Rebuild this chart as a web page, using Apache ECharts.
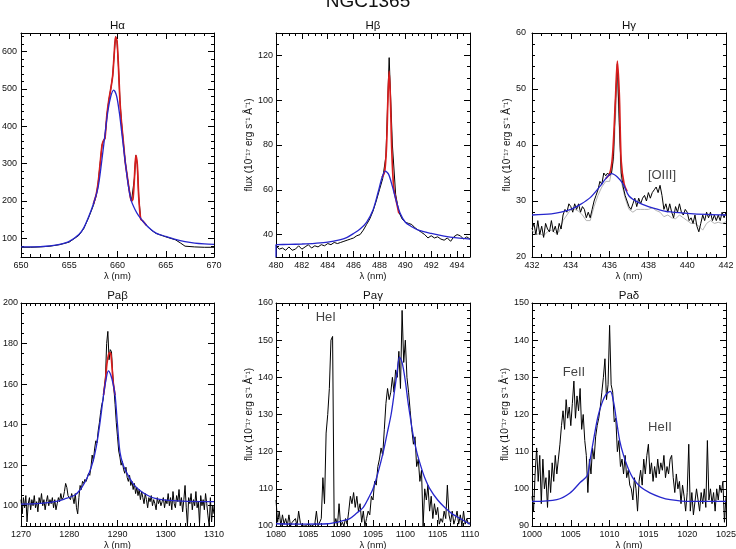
<!DOCTYPE html>
<html><head><meta charset="utf-8">
<script src="https://cdn.jsdelivr.net/npm/echarts@6/dist/echarts.min.js"></script>
<style>html,body{margin:0;padding:0;background:#fff}#c{width:736px;height:549px}</style>
</head><body><div id="c"></div>
<script>
// ---------------- DATA ----------------
const mainTitle = 'NGC1365';
const panelTitles = ['Hα', 'Hβ', 'Hγ', 'Paβ', 'Paγ', 'Paδ'];
const xRanges = [[650, 670], [480, 495], [432, 442], [1270, 1310], [1080, 1110], [1000, 1025]];
const xTickStep = [5, 2, 2, 10, 5, 5];
const yRanges = [[50, 650], [30, 130], [20, 60], [90, 200], [100, 160], [90, 150]];
const yTickStep = [100, 20, 10, 20, 10, 10];
const xName = 'λ (nm)';
const yName = 'flux (10⁻¹⁷ erg s⁻¹ Å⁻¹)';

// Hα
const haObsX = [650, 651, 652, 653, 654, 655, 656, 656.5, 657, 657.5, 657.8, 658, 658.2, 658.4, 658.55, 658.7, 658.9, 659.1, 659.3, 659.5, 659.65, 659.8, 659.95, 660.1, 660.25, 660.4, 660.6, 660.8, 661, 661.2, 661.45, 661.6, 661.75, 661.9, 662.05, 662.2, 662.4, 662.6, 663, 663.5, 664, 665, 666, 666.5, 667, 668, 669, 670];
const haObs = [76, 76, 77, 79, 83, 90, 108, 126, 155, 188, 215, 250, 300, 350, 362, 368, 430, 470, 500, 535, 590, 640, 628, 560, 470, 415, 360, 305, 268, 232, 200, 205, 260, 322, 298, 212, 152, 146, 134, 122, 113, 104, 96, 88, 79, 77, 76, 76];
const haRedX = [657.5, 657.8, 658, 658.2, 658.4, 658.55, 658.7, 658.9, 659.1, 659.3, 659.5, 659.65, 659.8, 659.95, 660.1, 660.25, 660.4, 660.6, 660.8, 661, 661.2, 661.45, 661.6, 661.75, 661.9, 662.05, 662.2, 662.4, 662.6, 663];
const haRed = [192, 218, 250, 300, 350, 362, 368, 430, 470, 500, 535, 590, 640, 628, 560, 470, 415, 360, 305, 268, 232, 200, 205, 260, 322, 298, 212, 152, 147, 135];
const haBlueX = [650, 651, 652, 653, 654, 655, 656, 656.5, 657, 657.5, 658, 658.5, 659, 659.3, 659.6, 659.9, 660.2, 660.5, 660.8, 661.1, 661.4, 661.8, 662.2, 662.6, 663, 663.5, 664, 665, 666, 667, 668, 669, 670];
const haBlue = [77, 77, 78, 80, 84, 92, 110, 128, 157, 192, 238, 335, 440, 480, 497, 482, 435, 370, 305, 245, 203, 178, 160, 147, 135, 123, 114, 105, 97, 91, 87, 85, 84];

// Hβ (observed sampled every 0.25 nm from 480)
const hbObsStart = 480, hbObsStep = 0.25;
const hbObs = [
  35, 33.5, 34, 33,
  34.5, 33, 33.5, 35,
  33.5, 34.5, 35.5, 34,
  35, 34.5, 35.5, 35,
  36, 35.5, 36.5, 36,
  36.5, 37, 37.5, 38,
  38.5, 39.5, 40, 42,
  44.5, 47, 50.5, 55,
  60, 65, 75, 119,
  80, 58, 50, 47,
  45.5, 45, 44.5, 43,
  42, 41, 40, 38.5,
  39.5, 38.5, 39, 38,
  37.5, 38.5, 37, 39,
  40, 39.5, 38, 39,
  38];
const hbRedX = [488.2, 488.4, 488.55, 488.65, 488.75, 488.85, 488.95, 489.1, 489.3, 489.5];
const hbRed = [65.5, 68, 80, 100, 113, 100, 78, 61, 55, 49.5];
const hbBlueX = [480, 480, 481, 482, 483, 484, 485, 485.5, 486, 486.5, 487, 487.5, 487.9, 488.2, 488.45, 488.7, 489.0, 489.3, 489.6, 490.0, 490.5, 491, 492, 493, 494, 495];
const hbBlue = [30, 35.5, 35.6, 35.8, 36.1, 36.6, 37.8, 38.8, 40.5, 42.5, 45.5, 51, 59, 65.5, 68.3, 67, 61.5, 55, 49.5, 45.5, 43.5, 42, 40.5, 39.3, 38.5, 38];

// Hγ (observed every 0.1 nm, gray every 0.2 nm, from 432)
const hgObsStart = 432, hgObsStep = 0.1;
const hgObs = [
  25, 26, 24, 26.5, 24, 25.5, 23.5, 26, 25, 24.5,
  26.5, 24.5, 25.5, 24, 26, 25, 27.5, 28.5, 28, 29.5,
  29, 28, 29.5, 28.5, 29.5, 28, 29, 28.5, 27, 28,
  27, 28.5, 30, 31, 32, 33.5, 33, 35, 34.5, 35,
  34.5, 35, 38, 48, 54.5, 44, 35, 32.5, 31, 30,
  29, 28.5, 29.5, 30.5, 29, 30.5, 29.5, 30.5, 31, 30,
  31.5, 30.5, 31.5, 32, 32.5, 31.5, 32.8, 31, 28.5, 29.5,
  28, 29.5, 28, 27, 29, 28, 29.5, 28, 27.5, 28.5,
  28, 26.5, 27, 26, 27.5, 25.5, 24.5, 26, 27.5, 26.5,
  28, 27, 28, 26.5, 27.5, 26.5, 27.5, 26.5, 28, 27,
  28];
const hgGrayStart = 432, hgGrayStep = 0.2;
const hgGray = [
  24.8, 24, 24.2, 23.8, 24.5, 24.8, 24.3, 24.5, 26.5, 27.5,
  28.5, 28.5, 28.2, 27.5, 26.5, 26.5, 29, 31, 32.5, 33.5,
  33.5, 37, 52, 33.5, 30.5, 28.5, 28, 28.5, 28.5, 28.5,
  28.5, 28.8, 28.3, 28, 27.2, 27.5, 27, 26.8, 27.5, 27,
  26.5, 26, 26, 25.5, 24.8, 26, 26.5, 26, 26.2, 26,
  26.3];
const hgRedX = [435.8, 436.0, 436.15, 436.3, 436.4, 436.5, 436.6, 436.75, 436.9];
const hgRed = [34, 34.8, 38, 48, 55, 49, 37, 33, 31.7];
const hgBlueX = [432, 433, 433.5, 434, 434.5, 435, 435.5, 435.8, 436.1, 436.4, 436.7, 437, 437.5, 438, 438.5, 439, 440, 441, 442];
const hgBlue = [27.5, 27.7, 28, 28.5, 29.4, 30.6, 32.6, 34, 34.9, 34.3, 33, 30.9, 29.7, 29, 28.5, 28.1, 27.8, 27.6, 27.5];

// Paβ (observed every 0.25 nm from 1270)
const pbObsStart = 1270, pbObsStep = 0.25;
const pbObs = [
  103, 96, 104, 99, 105, 92, 101, 104,
  98, 103, 100, 105, 99, 102, 97, 104,
  101, 106, 100, 103, 98, 102, 105, 100,
  103, 101, 104, 99, 103, 98, 101, 104,
  102, 106, 103, 104, 107, 111, 109, 105,
  104, 103, 106, 104, 101, 106, 99, 96,
  104, 110, 108, 112, 111, 113, 112, 114,
  116, 115, 119, 125, 122, 128, 132, 131,
  137, 141, 146, 150, 152, 158, 163, 180,
  186, 172, 177, 176, 165, 158, 150, 141,
  134, 127, 124, 120, 122, 118, 116, 119,
  114, 112, 115, 110, 112, 108, 111, 106,
  109, 105, 108, 103, 107, 104, 101, 106,
  103, 99, 104, 102, 105, 100, 103, 101,
  98, 104, 101, 103, 100, 102, 104, 99,
  103, 101, 106, 100, 104, 98, 107, 101,
  99, 105, 102, 108, 100, 104, 97, 103,
  110, 99, 90, 104, 101, 106, 98, 103,
  100, 107, 99, 102, 91, 105, 100, 103,
  98, 106, 101, 95, 90, 104, 92, 100,
  96];
const pbRedX = [1287.1, 1287.5, 1287.8, 1288.1, 1288.35, 1288.6, 1288.85, 1289.1, 1289.5];
const pbRed = [154.6, 162, 170, 174, 175.5, 175, 169, 161, 154.6];
const pbBlueX = [1270, 1274, 1277, 1279, 1281.2, 1282.3, 1283.3, 1284.1, 1284.9, 1285.6, 1286.2, 1286.7, 1287.1, 1287.6, 1288.1, 1288.6, 1289.1, 1289.5, 1290, 1290.5, 1291.2, 1292.2, 1293.5, 1295, 1296.5, 1297.8, 1300, 1303.3, 1310];
const pbBlue = [100.8, 101.2, 102, 103.3, 105.3, 108, 111.8, 116, 121.7, 129, 138, 147, 154.6, 162, 166.5, 164.5, 160, 154.6, 140, 126.6, 120, 115, 110, 106.9, 104.8, 103.6, 102.8, 102.3, 102];

// Paγ (observed every 0.25 nm from 1080)
const pgObsStart = 1080, pgObsStep = 0.25;
const pgObs = [
  107, 101, 104, 100, 103, 100.5, 102, 100,
  103, 100, 101, 100.5, 102, 100, 104, 101,
  100, 100.5, 100, 100, 100.5, 100, 100, 100,
  100.5, 104, 100, 100, 102, 113, 106, 125,
  130, 137, 150, 151, 100, 102, 100, 106,
  100, 101, 100, 102, 100.5, 104, 108, 106,
  109, 105, 108, 104, 106, 101, 104, 100,
  102, 104, 103, 108, 107, 112, 111, 116,
  118, 121, 119, 126, 133, 137, 134, 136,
  140, 136, 142, 140, 147, 137, 158, 144,
  150, 140, 136, 131, 126, 122, 124, 116,
  118, 112, 115, 100, 110, 107, 111, 104,
  108, 102, 106, 103, 105, 100.5, 102, 101,
  104, 102, 111, 103, 101, 104, 100.5, 102,
  104, 100.5, 103, 100, 104, 100.5, 102, 100.5,
  101];
const pgBlueX = [1080, 1084, 1088, 1089.4, 1090.5, 1091.4, 1092.5, 1093.5, 1094.3, 1095, 1095.8, 1096.6, 1097.2, 1097.8, 1098.3, 1098.7, 1099.1, 1099.5, 1100, 1100.4, 1100.7, 1101.2, 1101.75, 1102.5, 1103, 1103.8, 1105, 1106.1, 1107.3, 1108.5, 1110];
const pgBlue = [100.6, 100.5, 100.6, 101, 101.5, 102, 103.5, 105, 107.5, 110, 114.5, 120, 125, 130, 136, 141, 145.5, 144, 139, 133.5, 130, 124.5, 120, 115.5, 113, 110, 107, 105, 103.2, 102, 100.5];

// Paδ (observed every 0.2 nm from 1000)
const pdObsStart = 1000, pdObsStep = 0.2;
const pdObs = [
  98, 94, 104, 111, 102,
  109, 96, 108, 100, 103,
  95, 105, 99, 107, 102,
  109, 104, 108, 112, 117,
  121, 116, 124, 119, 122,
  117, 123, 129, 119, 125,
  121, 127, 116, 120, 113,
  109, 99, 108, 104, 111,
  108, 114, 117, 119, 122,
  126, 130, 135, 124, 128,
  144, 128, 126, 118, 119,
  110, 113, 106, 108, 104,
  109, 103, 105, 101, 100,
  97, 103, 100, 94, 102,
  105, 101, 108, 104, 109,
  112, 104, 107, 102, 106,
  103, 108, 104, 107, 105,
  109, 103, 106, 104, 108,
  109, 103, 99, 104, 100,
  102, 96, 101, 98, 94,
  99, 112, 94, 99, 93,
  93, 100, 97, 94, 99,
  96, 100, 95, 113, 97,
  100, 96, 99, 94, 100,
  97, 101, 99, 102, 91,
  98];
const pdBlueX = [1000, 1003.2, 1004.9, 1006.2, 1007.1, 1007.5, 1008, 1008.5, 1009, 1009.5, 1010.1, 1010.5, 1010.9, 1011.3, 1011.8, 1012.4, 1013.1, 1014, 1015.2, 1016.5, 1017.8, 1020.4, 1025];
const pdBlue = [96.6, 97.1, 98.9, 101.7, 103.5, 108, 114, 119.5, 123, 125.3, 126.2, 123.5, 118.2, 113, 109, 105.5, 102.6, 100.5, 98.9, 97.8, 97.1, 96.6, 96.6];

// line annotations (panel index, wavelength, flux)
const annoText = ['[OIII]', 'HeI', 'FeII', 'HeII'];
const annoPanel = [2, 4, 5, 5];
const annoX = [438.7, 1087.7, 1005.4, 1016.5];
const annoY = [34.6, 156.2, 131.2, 116.4];

// ---------------- BUILD ----------------
const FONT = '"Liberation Sans", Arial, Helvetica, sans-serif';
const pairs = (xs, ys) => ys.map((y, i) => [xs[i], y]);
const sampled = (x0, dx, ys) => ys.map((y, i) => [+(x0 + i * dx).toFixed(4), y]);

const grids = [
  {left: 21, top: 33, width: 193, height: 224},
  {left: 276, top: 33, width: 194, height: 224},
  {left: 532, top: 33, width: 194, height: 224},
  {left: 21, top: 303, width: 193, height: 223},
  {left: 276, top: 303, width: 194, height: 223},
  {left: 532, top: 303, width: 194, height: 223}
];
const xMinor = [5, 4, 4, 10, 5, 5];
const yMinor = [5, 4, 5, 4, 5, 5];
const yLabelMargin = [4, 3, 6, 3, 3, 3];
const yNameGap = [0, 20, 17, 0, 20, 19];
const yAuto = [true, true, false, true, false, false];

const BLACK = '#000', RED = '#d81c1c', BLUE = '#2626cc', GRAY = '#b4b4b4';

const panelLines = [
  [[pairs(haObsX, haObs), BLACK, 1, false], [pairs(haRedX, haRed), RED, 1.7, true], [pairs(haBlueX, haBlue), BLUE, 1.3, true]],
  [[sampled(hbObsStart, hbObsStep, hbObs), BLACK, 1, false], [pairs(hbRedX, hbRed), RED, 1.7, true], [pairs(hbBlueX, hbBlue), BLUE, 1.3, true]],
  [[sampled(hgGrayStart, hgGrayStep, hgGray), GRAY, 1, false], [sampled(hgObsStart, hgObsStep, hgObs), BLACK, 1, false], [pairs(hgRedX, hgRed), RED, 1.7, true], [pairs(hgBlueX, hgBlue), BLUE, 1.3, true]],
  [[sampled(pbObsStart, pbObsStep, pbObs), BLACK, 1, false], [pairs(pbRedX, pbRed), RED, 1.7, true], [pairs(pbBlueX, pbBlue), BLUE, 1.3, true]],
  [[sampled(pgObsStart, pgObsStep, pgObs), BLACK, 1, false], [pairs(pgBlueX, pgBlue), BLUE, 1.3, true]],
  [[sampled(pdObsStart, pdObsStep, pdObs), BLACK, 1, false], [pairs(pdBlueX, pdBlue), BLUE, 1.3, true]]
];

function labelFmt(step) {
  return v => (Math.abs(v / step - Math.round(v / step)) < 1e-6 ? String(Math.round(v)) : '');
}
const axisLine = {show: true, onZero: false, lineStyle: {color: '#000', width: 1}};
const tick = {show: true, inside: true, length: 6, lineStyle: {color: '#000', width: 1}};

const xAxes = [], yAxes = [], series = [], graphics = [];
for (let i = 0; i < 6; i++) {
  const minorX = {show: true, splitNumber: xMinor[i], length: 3, lineStyle: {color: '#000', width: 1}};
  const minorY = {show: true, splitNumber: yMinor[i], length: 3, lineStyle: {color: '#000', width: 1}};
  const xb = {type: 'value', gridIndex: i, position: 'bottom', min: xRanges[i][0], max: xRanges[i][1], interval: xTickStep[i],
    axisLine, axisTick: tick, minorTick: minorX, splitLine: {show: false},
    axisLabel: {margin: 4, fontSize: 9, color: '#111', fontFamily: FONT, formatter: labelFmt(xTickStep[i])},
    name: xName, nameLocation: 'middle', nameGap: 13, nameTextStyle: {fontSize: 9.5, color: '#111', fontFamily: FONT}};
  const xt = Object.assign({}, xb, {position: 'top', axisLabel: {show: false}, name: ''});
  xAxes.push(xb);
  const yl = {type: 'value', gridIndex: i, position: 'left', min: yRanges[i][0], max: yRanges[i][1],
    axisLine, axisTick: tick, minorTick: minorY, splitLine: {show: false},
    axisLabel: {margin: yLabelMargin[i], fontSize: 9, color: '#111', fontFamily: FONT, formatter: labelFmt(yTickStep[i])}};
  if (!yAuto[i]) yl.interval = yTickStep[i];
  if (yNameGap[i]) Object.assign(yl, {name: yName, nameLocation: 'middle', nameGap: yNameGap[i], nameTextStyle: {fontSize: 10, color: '#111', fontFamily: FONT}});
  const yr = Object.assign({}, yl, {position: 'right', axisLabel: {show: false}, name: ''});
  yAxes.push(yl);
  xAxes.push(xt); yAxes.push(yr);
  panelLines[i].forEach(([data, color, width, smooth]) => {
    series.push({type: 'line', xAxisIndex: 2 * i, yAxisIndex: 2 * i, data, showSymbol: false, symbol: 'none',
      smooth: smooth ? 0.3 : false, lineStyle: {color, width}, itemStyle: {color}, silent: true, animation: false});
  });
  const g = grids[i];
  graphics.push({type: 'text', x: g.left + g.width / 2, y: g.top - 7.5,
    style: {text: panelTitles[i], font: '11.5px ' + FONT, fill: '#111', textAlign: 'center', textVerticalAlign: 'middle'}});
}
annoText.forEach((t, k) => {
  const p = annoPanel[k];
  series.push({type: 'scatter', xAxisIndex: 2 * p, yAxisIndex: 2 * p, data: [[annoX[k], annoY[k]]], symbolSize: 1,
    itemStyle: {color: 'rgba(0,0,0,0)'}, silent: true, animation: false,
    label: {show: true, position: 'inside', formatter: t, fontSize: 13, color: '#111', fontFamily: FONT}});
});
graphics.push({type: 'text', x: 368, y: 1.5,
  style: {text: mainTitle, font: '19px ' + FONT, fill: '#111', textAlign: 'center', textVerticalAlign: 'middle'}});

const chart = echarts.init(document.getElementById('c'), null, {renderer: 'canvas'});
chart.setOption({
  backgroundColor: '#fff',
  animation: false,
  grid: grids.map(g => Object.assign({containLabel: false, outerBoundsMode: 'none'}, g)),
  xAxis: xAxes,
  yAxis: yAxes,
  series,
  graphic: graphics
});
</script></body></html>
